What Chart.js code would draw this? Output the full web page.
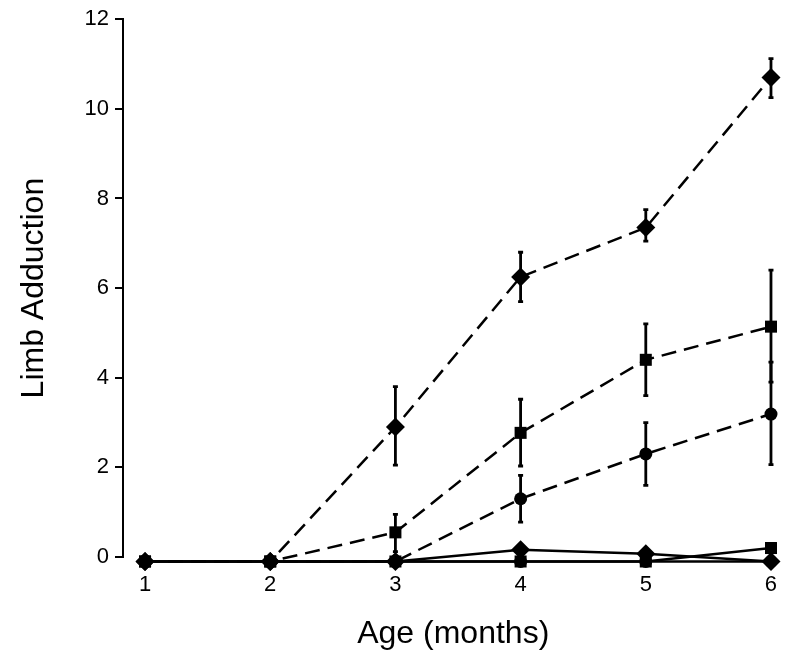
<!DOCTYPE html>
<html>
<head>
<meta charset="utf-8">
<script src="https://cdn.jsdelivr.net/npm/chart.js@4.4.0/dist/chart.umd.min.js"></script>
<style>
  html, body { margin: 0; padding: 0; background: #fff; }
  #wrap { width: 793px; height: 658px; }
</style>
</head>
<body>
<div id="wrap"><canvas id="chart"></canvas></div>
<script>
const months = [1, 2, 3, 4, 5, 6];
const yTicks = [0, 2, 4, 6, 8, 10, 12];

// dashed groups
const dashedDiamond = [-0.1, -0.1, 2.9, 6.25, 7.35, 10.7];
const dashedDiamondLow = [null, null, 2.05, 5.7, 7.05, 10.25];
const dashedDiamondHigh = [null, null, 3.8, 6.8, 7.75, 11.12];

const dashedSquare = [-0.1, -0.1, 0.55, 2.77, 4.4, 5.14];
const dashedSquareLow = [null, null, 0.12, 2.03, 3.6, 3.9];
const dashedSquareHigh = [null, null, 0.95, 3.52, 5.2, 6.4];

const dashedCircle = [-0.1, -0.1, -0.1, 1.3, 2.3, 3.19];
const dashedCircleLow = [null, null, null, 0.78, 1.6, 2.06];
const dashedCircleHigh = [null, null, null, 1.82, 3.0, 4.35];

// solid groups
const solidDiamond = [-0.1, -0.1, -0.1, 0.16, 0.07, -0.1];
const solidSquare = [-0.1, -0.1, -0.1, -0.1, -0.1, 0.2];
const solidCircle = [-0.1, -0.1, -0.1, -0.1, -0.1, -0.1];

const pts = arr => months.map((m, i) => ({ x: m, y: arr[i] }));
const radius = { rectRot: 9.5, rect: 8.5, circle: 6.5 };

function series(values, shape, dashed, low, high) {
  return {
    data: pts(values),
    borderColor: '#000',
    backgroundColor: '#000',
    borderWidth: 2.5,
    borderDash: dashed ? [15, 8] : [],
    pointStyle: shape,
    pointRadius: radius[shape],
    pointBorderWidth: 0,
    tension: 0,
    clip: false,
    errLow: low,
    errHigh: high
  };
}

// vertical error bars with small caps, placed through the scales
const errorBars = {
  id: 'errorBars',
  afterDatasetsDraw(chart) {
    const { ctx, scales: { x, y } } = chart;
    ctx.save();
    ctx.strokeStyle = '#000';
    ctx.lineWidth = 2.8;
    chart.data.datasets.forEach(ds => {
      if (!ds.errLow) return;
      ds.data.forEach((p, i) => {
        if (ds.errLow[i] == null) return;
        const px = x.getPixelForValue(p.x);
        const y1 = y.getPixelForValue(ds.errLow[i]);
        const y2 = y.getPixelForValue(ds.errHigh[i]);
        ctx.beginPath();
        ctx.moveTo(px, y1); ctx.lineTo(px, y2);
        ctx.moveTo(px - 2.5, y1); ctx.lineTo(px + 2.5, y1);
        ctx.moveTo(px - 2.5, y2); ctx.lineTo(px + 2.5, y2);
        ctx.stroke();
      });
    });
    ctx.restore();
  }
};

new Chart(document.getElementById('chart').getContext('2d'), {
  type: 'line',
  data: {
    datasets: [
      series(dashedDiamond, 'rectRot', true, dashedDiamondLow, dashedDiamondHigh),
      series(dashedSquare, 'rect', true, dashedSquareLow, dashedSquareHigh),
      series(dashedCircle, 'circle', true, dashedCircleLow, dashedCircleHigh),
      series(solidDiamond, 'rectRot', false),
      series(solidSquare, 'rect', false),
      series(solidCircle, 'circle', false)
    ]
  },
  options: {
    responsive: true,
    maintainAspectRatio: false,
    animation: false,
    layout: { padding: { top: 16, right: 8, left: 0, bottom: 0 } },
    plugins: { legend: { display: false }, tooltip: { enabled: false } },
    scales: {
      x: {
        type: 'linear',
        min: 0.824,
        max: 6.1,
        afterBuildTicks: s => { s.ticks = months.map(v => ({ value: v })); },
        afterFit: s => { s.height = 101; },
        grid: { display: false },
        border: { display: false },
        ticks: {
          color: '#000',
          padding: 7,
          font: { family: 'Liberation Sans, Arial, sans-serif', size: 22 }
        },
        title: {
          display: true,
          text: 'Age (months)',
          color: '#000',
          padding: { top: 0, bottom: 5 },
          font: { family: 'Liberation Sans, Arial, sans-serif', size: 32 }
        }
      },
      y: {
        min: 0,
        max: 12,
        afterBuildTicks: s => { s.ticks = yTicks.map(v => ({ value: v })); },
        afterFit: s => { s.width = 123; },
        grid: {
          display: true,
          drawOnChartArea: false,
          drawTicks: true,
          tickLength: 8,
          color: '#000',
          lineWidth: 2
        },
        border: { display: true, color: '#000', width: 2 },
        ticks: {
          color: '#000',
          padding: 6,
          font: { family: 'Liberation Sans, Arial, sans-serif', size: 22 }
        },
        title: {
          display: true,
          text: 'Limb Adduction',
          color: '#000',
          padding: { top: 15, bottom: 0 },
          font: { family: 'Liberation Sans, Arial, sans-serif', size: 32 }
        }
      }
    }
  },
  plugins: [errorBars]
});
</script>
</body>
</html>
